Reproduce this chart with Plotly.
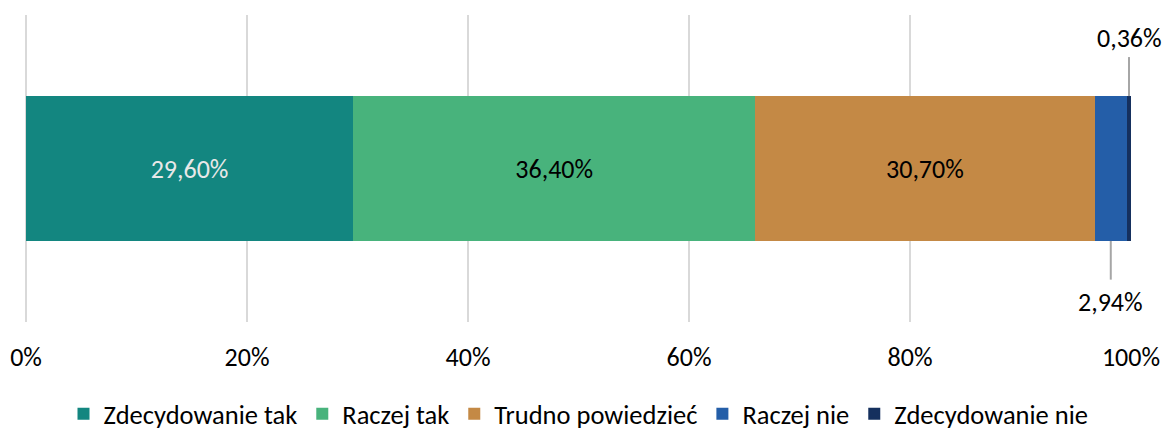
import plotly.graph_objects as go

categories = ["Zdecydowanie tak", "Raczej tak", "Trudno powiedzieć", "Raczej nie", "Zdecydowanie nie"]
values = [29.6, 36.4, 30.7, 2.94, 0.36]
colors = ["#138680", "#48B37C", "#C48945", "#245EA8", "#15305E"]
text_colors = ["#E8E8E8", "#000000", "#000000", "#000000", "#000000"]
show_inside = [True, True, True, False, False]
tick_vals = [0, 20, 40, 60, 80, 100]
tick_text = ["0%", "20%", "40%", "60%", "80%", "100%"]

FONT = "Carlito, Lato, sans-serif"
FS = 26
LFS = 26.5

def fmt(v):
    return f"{v:.2f}%".replace(".", ",")

fig = go.Figure()
for cat, v, c, tc, si in zip(categories, values, colors, text_colors, show_inside):
    fig.add_trace(go.Bar(
        x=[v], y=[""], orientation="h", name=cat,
        marker=dict(color=c, line=dict(width=0)),
        width=0.47,
        text=[fmt(v)] if si else None,
        textposition="inside", insidetextanchor="middle",
        textfont=dict(color=tc, size=FS, family=FONT),
        hoverinfo="skip",
    ))

cum = 0
starts = []
for v in values:
    starts.append(cum)
    cum += v
# Raczej nie (below)
xc = starts[3] + values[3] / 2
fig.add_shape(type="line", x0=xc, x1=xc, y0=-0.236, y1=-0.362, xref="x", yref="y",
              line=dict(color="#A6A6A6", width=2))
fig.add_annotation(x=xc, y=-0.435, xref="x", yref="y", text=fmt(values[3]), showarrow=False,
                   font=dict(size=FS, color="#000000", family=FONT), yanchor="middle")
# Zdecydowanie nie (above)
xc = starts[4] + values[4] / 2
fig.add_shape(type="line", x0=xc, x1=xc, y0=0.236, y1=0.363, xref="x", yref="y",
              line=dict(color="#A6A6A6", width=2))
fig.add_annotation(x=xc, y=0.425, xref="x", yref="y", text=fmt(values[4]), showarrow=False,
                   font=dict(size=FS, color="#000000", family=FONT), yanchor="middle")

fig.update_layout(
    barmode="stack",
    width=1163, height=420,
    margin=dict(l=18, r=40, t=7, b=106, autoexpand=False),
    plot_bgcolor="white", paper_bgcolor="white",
    font=dict(family=FONT, size=FS, color="#000000"),
    showlegend=True,
    legend=dict(orientation="h", x=0.5, xanchor="center", y=-0.30, yanchor="middle",
                font=dict(size=LFS, family=FONT), traceorder="normal", itemwidth=30,
                tracegroupgap=0),
    xaxis=dict(range=[0, 100], tickvals=tick_vals, ticktext=tick_text,
               showgrid=True, gridcolor="#D9D9D9", gridwidth=1.5,
               zeroline=True, zerolinecolor="#D9D9D9", zerolinewidth=1.5,
               showline=False, ticks="", ticklabelstandoff=17, automargin=False,
               tickfont=dict(size=FS, family=FONT)),
    yaxis=dict(range=[-0.5, 0.5], showticklabels=False, showgrid=False, zeroline=False,
               showline=False, automargin=False),
)

fig.write_html("out.html")
